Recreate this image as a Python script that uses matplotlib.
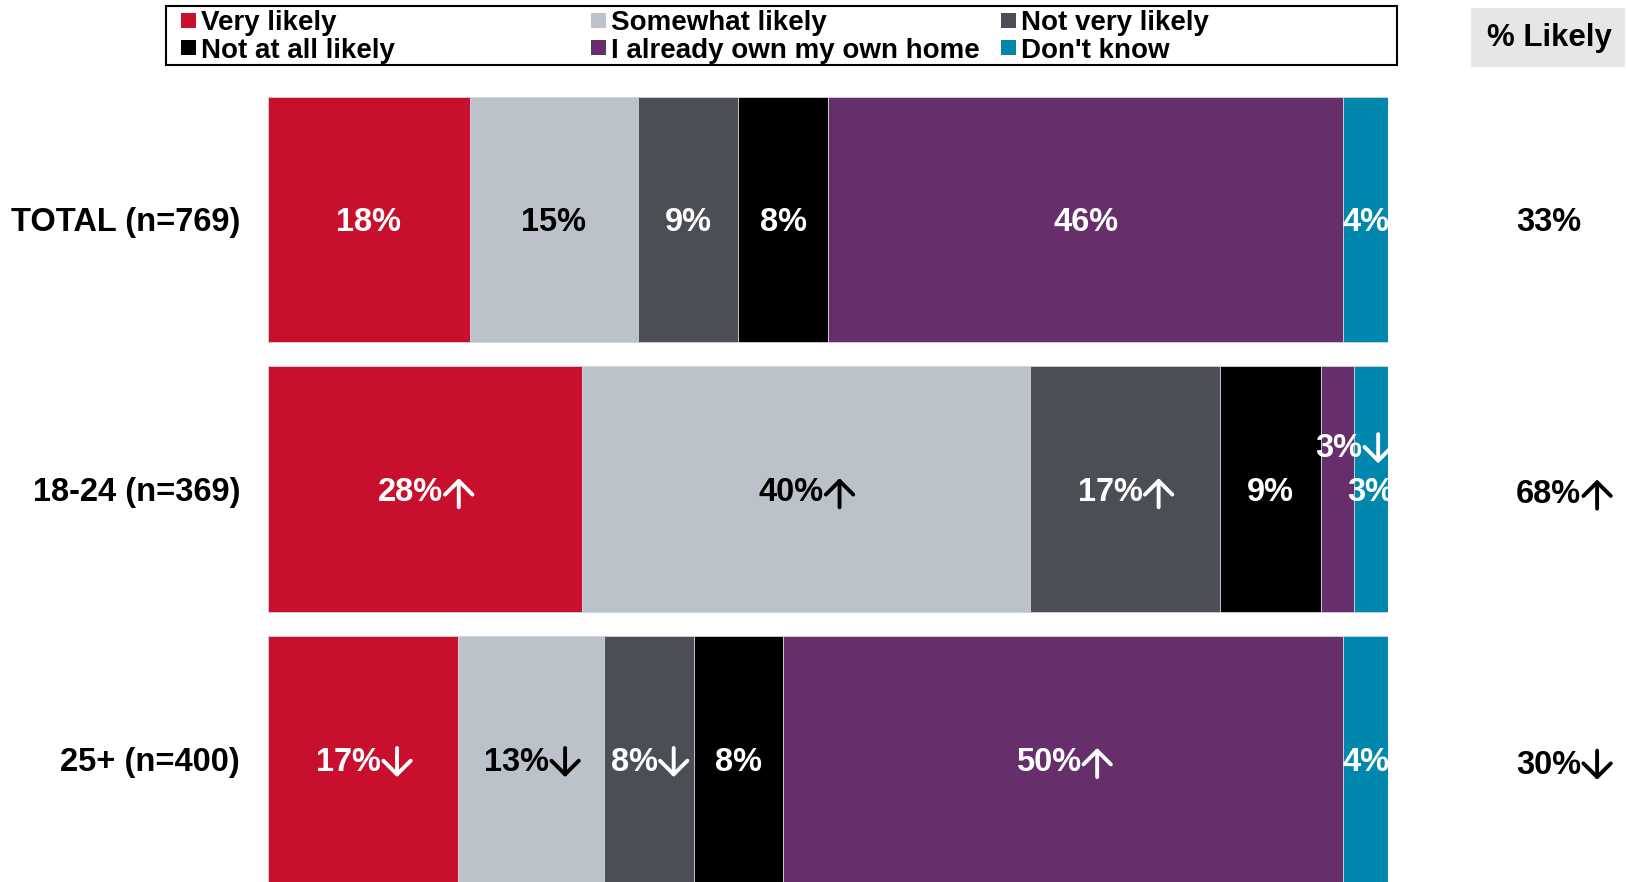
import numpy as np
import matplotlib.pyplot as plt
from matplotlib.patches import Rectangle
from matplotlib.text import OffsetFrom
from matplotlib import transforms

plt.rcParams['font.family'] = ['Liberation Sans', 'DejaVu Sans']
plt.rcParams['font.weight'] = 'bold'

# data
groups = ['TOTAL (n=769)', '18-24 (n=369)', '25+ (n=400)']
series = ['Very likely', 'Somewhat likely', 'Not very likely',
          'Not at all likely', 'I already own my own home', "Don't know"]
very_likely = [18, 28, 17]
somewhat_likely = [15, 40, 13]
not_very_likely = [9, 17, 8]
not_at_all_likely = [8, 9, 8]
own_home = [46, 3, 50]
dont_know = [4, 3, 4]
# significance arrows per series (one per group): +1 up, -1 down, 0 none
sig_very = [0, 1, -1]
sig_somewhat = [0, 1, -1]
sig_notvery = [0, 1, -1]
sig_notatall = [0, 0, 0]
sig_own = [0, -1, 1]
sig_dk = [0, 0, 0]
pct_likely = [33, 68, 30]
pct_likely_sig = [0, 1, -1]

values = [very_likely, somewhat_likely, not_very_likely,
          not_at_all_likely, own_home, dont_know]
sigs = [sig_very, sig_somewhat, sig_notvery, sig_notatall, sig_own, sig_dk]
colors = ['#C8102E', '#BBC2C9', '#4B4E54', '#000000', '#662E6B', '#0087AE']
text_colors = ['white', 'black', 'white', 'white', 'white', 'white']

W, H = 1627, 882
fig = plt.figure(figsize=(W / 100, H / 100), dpi=100)
ax = fig.add_axes([268 / W, 0, 1120 / W, (H - 96.5) / H])
ax.set_xlim(0, 100)
ax.set_ylim(2.4556, -0.4556)
ax.axis('off')

fs = 23.5
ARROW_W = 21  # points taken by the arrow after the number


def label(x, y, num, arrow, color, ha='center', transform=None, clip=True):
    # number as text, significance arrow drawn as a chevron-headed arrow
    tr = transform if transform is not None else ax.transData
    dx = -ARROW_W / 2 if (arrow and ha == 'center') else 0
    tr = transforms.offset_copy(tr, fig=fig, x=dx, y=-2.5, units='points')
    t = ax.text(x, y, num, ha=ha, va='center', color=color, fontsize=fs,
                fontweight='bold', transform=tr, clip_on=clip)
    if arrow:
        ref = OffsetFrom(t, (1, 0.5))
        top, bot = (11.5, 10.5), (11.5, -10.5)
        tip, tail = (top, bot) if arrow > 0 else (bot, top)
        ann = ax.annotate('', xy=tip, xycoords=ref, xytext=tail,
                          textcoords=ref,
                          arrowprops=dict(arrowstyle='->,head_length=0.42,head_width=0.42',
                                          lw=2.8, color=color, shrinkA=0,
                                          shrinkB=0, mutation_scale=fs))
        if clip:
            ann.arrow_patch.set_clip_path(ax.patch)


y = np.arange(len(groups))
bar_h = 246 / 270
left = np.zeros(len(groups))
for vals, sg, col, tcol in zip(values, sigs, colors, text_colors):
    vals = np.array(vals, dtype=float)
    ax.barh(y, vals, left=left, height=bar_h, color=col,
            edgecolor='#d0d4d8', linewidth=0.6)
    for i in range(len(groups)):
        cx = left[i] + vals[i] / 2
        cy = y[i]
        if vals[i] < 4 and col == '#662E6B':
            cx += 1.4
            cy -= 0.163
        label(cx, cy, f'{vals[i]:.0f}%', sg[i], tcol)
    left += vals

# row labels and % likely column
trans = transforms.blended_transform_factory(fig.transFigure, ax.transData)
for i, g in enumerate(groups):
    ax.text(240 / W, y[i], g, ha='right', va='center', fontsize=fs,
            fontweight='bold', clip_on=False,
            transform=transforms.offset_copy(trans, fig=fig, y=-2.5,
                                             units='points'))
    label(1516 / W, y[i] + 0.005 * i, f'{pct_likely[i]}%', pct_likely_sig[i],
          'black', ha='left', transform=trans, clip=False)

# "% Likely" header box
fig.add_artist(Rectangle((1471 / W, 1 - 67 / H), (1625 - 1471) / W, 59 / H,
                         transform=fig.transFigure, facecolor='#E6E6E6',
                         edgecolor='none'))
fig.text(1549 / W, 1 - 38 / H, '% Likely', ha='center', va='center',
         fontsize=22.5, fontweight='bold')

# legend box
fig.add_artist(Rectangle((166 / W, 1 - 65 / H), (1397 - 166) / W, 59 / H,
                         transform=fig.transFigure, facecolor='white',
                         edgecolor='black', linewidth=1.5))
col_x = [181, 591, 1001]
row_y = [20.5, 47.5]
order = [[0, 1, 2], [3, 4, 5]]
for r, row in enumerate(order):
    for c, k in enumerate(row):
        fig.add_artist(Rectangle((col_x[c] / W, 1 - (row_y[r] + 7.5) / H),
                                 15 / W, 15 / H, transform=fig.transFigure,
                                 facecolor=colors[k], edgecolor='none'))
        fig.text((col_x[c] + 20) / W, 1 - (row_y[r] + 3) / H, series[k],
                 ha='left', va='center', fontsize=20, fontweight='bold')

fig.savefig('out.png', dpi=100)
